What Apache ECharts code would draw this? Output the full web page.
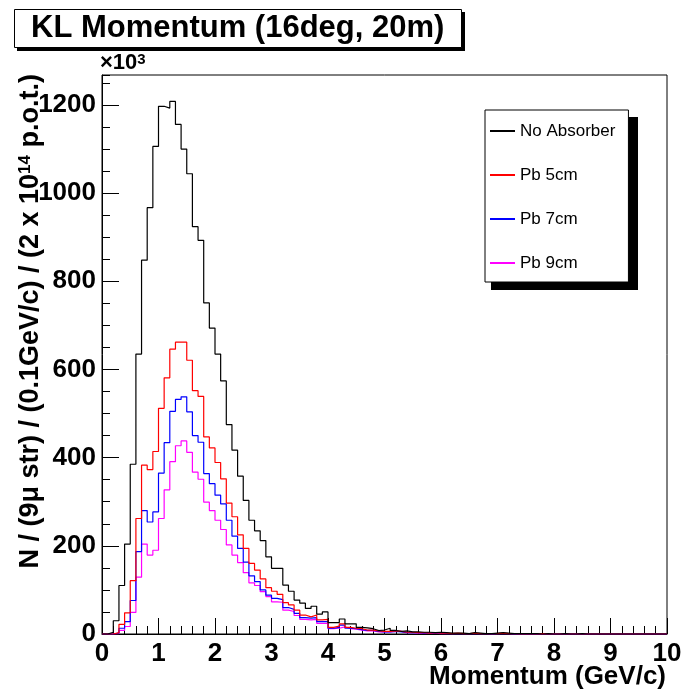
<!DOCTYPE html>
<html>
<head>
<meta charset="utf-8">
<script src="https://cdn.jsdelivr.net/npm/echarts@6/dist/echarts.min.js"></script>
<style>
  html, body { margin: 0; padding: 0; background: #fff; }
  #kl { width: 688px; height: 700px; }
</style>
</head>
<body>
<div id="kl"></div>
<script>
// bin contents (x10^3), bins of 0.1 GeV/c from 0 to 10
var noAbsorber = [
    0, 4, 30, 110, 204, 385, 635, 848, 967, 1106,
    1197, 1193, 1208, 1156, 1100, 1044, 924, 893, 751, 694,
    635, 574, 475, 417, 358, 303, 258, 234, 212, 175,
    149, 149, 111, 97, 77, 70, 58, 63, 45, 50,
    26, 26, 34, 23, 23, 15, 14, 12, 8, 9,
    13, 8, 6, 7, 5, 5, 4, 4, 3, 4,
    3, 2, 2, 2, 1, 3, 2, 1, 1, 2,
    3, 2, 1, 1, 1, 1, 1, 0, 1, 0,
    0, 1, 0, 0, 1, 0, 0, 0, 0, 0,
    0, 0, 0, 0, 0, 0, 0, 0, 0, 0
];
var pb5 = [
    0, 0, 3, 22, 48, 121, 262, 383, 373, 414,
    512, 581, 646, 662, 662, 621, 552, 539, 447, 422,
    389, 352, 297, 266, 225, 194, 160, 145, 125, 105,
    97, 90, 71, 66, 54, 43, 39, 43, 32, 33,
    15, 18, 23, 15, 13, 12, 9, 9, 7, 6,
    6, 7, 6, 4, 4, 3, 3, 2, 3, 2,
    2, 1, 2, 1, 1, 2, 1, 1, 1, 1,
    2, 1, 1, 0, 1, 0, 0, 1, 0, 0,
    0, 0, 0, 0, 0, 0, 0, 0, 0, 0,
    0, 0, 0, 0, 0, 0, 0, 0, 0, 0
];
var pb7 = [
    0, 0, 2, 13, 28, 76, 187, 280, 254, 277,
    365, 434, 505, 532, 538, 504, 450, 435, 364, 341,
    315, 295, 258, 222, 194, 163, 132, 119, 100, 88,
    81, 78, 60, 56, 47, 37, 36, 37, 28, 28,
    13, 15, 20, 13, 12, 10, 8, 8, 6, 5,
    5, 6, 5, 3, 3, 3, 2, 2, 2, 2,
    1, 1, 1, 1, 1, 1, 1, 1, 0, 1,
    1, 1, 0, 0, 0, 0, 1, 0, 0, 0,
    0, 0, 0, 0, 0, 0, 0, 0, 0, 0,
    0, 0, 0, 0, 0, 0, 0, 0, 0, 0
];
var pb9 = [
    0, 0, 1, 8, 17, 49, 129, 204, 179, 190,
    262, 327, 391, 427, 438, 412, 367, 351, 299, 280,
    258, 237, 202, 179, 162, 139, 116, 110, 96, 85,
    73, 72, 54, 51, 42, 33, 32, 33, 24, 24,
    12, 13, 16, 12, 11, 9, 7, 7, 5, 5,
    5, 6, 6, 3, 3, 2, 2, 2, 2, 1,
    1, 1, 1, 1, 1, 1, 1, 1, 0, 1,
    1, 1, 0, 0, 0, 0, 0, 0, 0, 0,
    0, 0, 0, 0, 0, 0, 0, 0, 0, 0,
    0, 0, 0, 0, 0, 0, 0, 0, 0, 0
];
var seriesNames = ['No Absorber', 'Pb 5cm', 'Pb 7cm', 'Pb 9cm'];
var seriesColors = ['#000000', '#ff0000', '#0000ff', '#ff00ff'];
var binWidth = 0.1;
var yMax = 1268;   // ROOT: 1.05 * maximum

var FONT = '"Liberation Sans", Arial, Helvetica, sans-serif';

// turn bin contents into step points (left edge of every bin + closing point)
function toSteps(vals) {
    var pts = [];
    for (var i = 0; i < vals.length; i++) {
        pts.push([i / 10, vals[i]]);
    }
    pts.push([vals.length * binWidth, vals[vals.length - 1]]);
    return pts;
}

var chart = echarts.init(document.getElementById('kl'), null, { renderer: 'canvas' });

var allData = [noAbsorber, pb5, pb7, pb9];
var series = [];
for (var s = 0; s < allData.length; s++) {
    series.push({
        name: seriesNames[s],
        type: 'line',
        step: 'end',
        symbol: 'none',
        xAxisIndex: 0,
        yAxisIndex: 0,
        data: toSteps(allData[s]),
        itemStyle: { color: seriesColors[s] },
        lineStyle: { color: seriesColors[s], width: 1.2 },
        z: 3 + (allData.length - s)
    });
}

var option = {
    animation: false,
    backgroundColor: '#fff',
    title: {
        text: 'KL Momentum (16deg, 20m)',
        left: 14,
        top: 9,
        padding: [4, 17, 4, 17],
        backgroundColor: '#fff',
        borderColor: '#000',
        borderWidth: 1,
        z: 8,
        textStyle: {
            fontFamily: FONT,
            fontWeight: 'bold',
            fontSize: 31,
            lineHeight: 31,
            color: '#000'
        }
    },
    legend: {
        orient: 'vertical',
        left: 485,
        top: 110,
        padding: [11, 13, 9, 5],
        itemWidth: 25,
        itemHeight: 2,
        itemGap: 24,
        icon: 'rect',
        backgroundColor: '#fff',
        borderColor: '#000',
        borderWidth: 1,
        z: 8,
        data: seriesNames,
        textStyle: {
            fontFamily: FONT,
            fontSize: 17,
            lineHeight: 20,
            color: '#000'
        }
    },
    grid: {
        left: 102,
        right: 21,
        top: 75,
        bottom: 66,
        outerBoundsMode: 'none',
        containLabel: false,
        show: true,
        borderColor: '#000',
        borderWidth: 1,
        backgroundColor: 'transparent'
    },
    xAxis: {
        type: 'value',
        min: 0,
        max: 10,
        interval: 1,
        axisLine: { show: true, lineStyle: { color: '#000', width: 1 } },
        axisTick: { show: true, inside: true, length: 16, lineStyle: { color: '#000' } },
        minorTick: { show: true, splitNumber: 5, length: 8, lineStyle: { color: '#000' } },
        axisLabel: {
            margin: 7,
            fontFamily: FONT,
            fontWeight: 'bold',
            fontSize: 26,
            color: '#000',
            formatter: function (v) { return String(v); }
        },
        splitLine: { show: false }
    },
    yAxis: [{
        type: 'value',
        min: 0,
        max: yMax,
        interval: 200,
        axisLine: { show: true, lineStyle: { color: '#000', width: 1 } },
        axisTick: { show: true, inside: true, length: 17, lineStyle: { color: '#000' } },
        axisLabel: {
            margin: 6,
            showMaxLabel: false,
            fontFamily: FONT,
            fontWeight: 'bold',
            fontSize: 26,
            color: '#000',
            formatter: function (v) { return String(v); }
        },
        splitLine: { show: false }
    }, {
        // second left axis only to draw the small ticks every 50
        type: 'value',
        position: 'left',
        min: 0,
        max: yMax,
        interval: 50,
        axisLine: { show: false },
        axisTick: { show: true, inside: true, length: 8, lineStyle: { color: '#000' } },
        axisLabel: { show: false },
        splitLine: { show: false }
    }],
    graphic: [
        // title box shadow
        { type: 'rect', left: 17, top: 12, z: 1, shape: { width: 448, height: 39 }, style: { fill: '#000' } },
        // legend shadow
        { type: 'rect', left: 491, top: 117, z: 1, shape: { width: 147, height: 173 }, style: { fill: '#000' } },
        {
            type: 'text',
            x: 100,
            y: 63,
            z: 10,
            style: {
                text: '×10{s|3}',
                fill: '#000',
                fontFamily: FONT,
                fontWeight: 'bold',
                fontSize: 22,
                align: 'left',
                verticalAlign: 'middle',
                rich: {
                    s: { fontFamily: FONT, fontWeight: 'bold', fontSize: 15, verticalAlign: 'top', lineHeight: 22, fill: '#000' }
                }
            }
        },
        {
            // x axis title, right aligned under the axis end
            type: 'text',
            x: 666,
            y: 677,
            z: 10,
            style: {
                text: 'Momentum (GeV/c)',
                fill: '#000',
                fontFamily: FONT,
                fontWeight: 'bold',
                fontSize: 26,
                align: 'right',
                verticalAlign: 'middle'
            }
        },
        {
            type: 'text',
            x: 31,
            y: 74,
            rotation: Math.PI / 2,
            z: 10,
            style: {
                text: 'N / (9μ str) / (0.1GeV/c) / (2 x 10{s|14} p.o.t.)',
                fill: '#000',
                fontFamily: FONT,
                fontWeight: 'bold',
                fontSize: 27,
                align: 'right',
                verticalAlign: 'middle',
                rich: {
                    s: { fontFamily: FONT, fontWeight: 'bold', fontSize: 17, verticalAlign: 'top', lineHeight: 29, fill: '#000' }
                }
            }
        }
    ],
    series: series
};

chart.setOption(option);
</script>
</body>
</html>
